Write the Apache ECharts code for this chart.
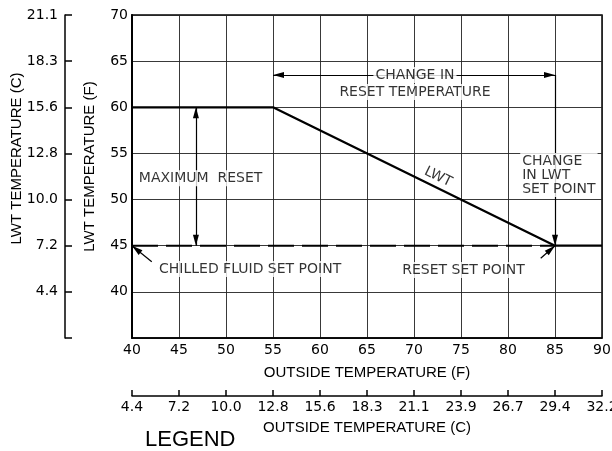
<!DOCTYPE html>
<html><head><meta charset="utf-8">
<script src="https://cdn.jsdelivr.net/npm/echarts@6/dist/echarts.min.js"></script>
<style>html,body{margin:0;padding:0;background:#fff}#c{width:612px;height:451px}</style>
</head><body><div id="c"></div>
<script>
// ---- data ----
const lwtOutsideF = [40, 55, 85, 90];
const lwtTempF = [60, 60, 45, 45];
const setPointOutsideF = [40, 85];
const setPointTempF = [45, 45];
const cTickLabelsY = ['', '4.4', '7.2', '10.0', '12.8', '15.6', '18.3', '21.1'];   // for 35..70 F
const cTickLabelsX = ['4.4', '7.2', '10.0', '12.8', '15.6', '18.3', '21.1', '23.9', '26.7', '29.4', '32.2']; // for 40..90 F

const INK = '#000';
const TICK_FONT = 'DejaVu Sans';
const TITLE_FONT = 'Liberation Sans';

const chart = echarts.init(document.getElementById('c'), null, {renderer: 'canvas'});

function arrow(from, to, both) {
  const head = {symbol: 'triangle', symbolSize: [6, 11], symbolOffset: [0, '50%']};
  return [Object.assign({coord: from}, both ? head : {symbol: 'none'}),
          Object.assign({coord: to}, head)];
}

const option = {
  animation: false,
  backgroundColor: '#fff',
  grid: {left: 132, right: 10, top: 15, bottom: 113, outerBoundsMode: 'none', containLabel: false,
         show: true, borderColor: INK, borderWidth: 1.5, backgroundColor: 'transparent'},
  xAxis: [
    {
      type: 'value', min: 40, max: 90, interval: 5, position: 'bottom',
      axisLine: {show: true, lineStyle: {color: INK, width: 1.5}},
      axisTick: {show: false},
      splitLine: {show: true, lineStyle: {color: '#222', width: 0.9}},
      axisLabel: {color: INK, fontFamily: TICK_FONT, fontSize: 14, margin: 5},
      name: 'OUTSIDE TEMPERATURE (F)', nameLocation: 'middle', nameGap: 27, nameMoveOverlap: false,
      nameTextStyle: {color: INK, fontFamily: TITLE_FONT, fontSize: 15}
    },
    {
      type: 'value', min: 40, max: 90, interval: 5, position: 'bottom', offset: 58,
      axisLine: {show: true, lineStyle: {color: INK, width: 1.5}},
      axisTick: {show: true, inside: true, length: 6, lineStyle: {color: INK, width: 1.5}},
      splitLine: {show: false},
      axisLabel: {color: INK, fontFamily: TICK_FONT, fontSize: 14, margin: 4,
        formatter: v => cTickLabelsX[Math.round((v - 40) / 5)]},
      name: 'OUTSIDE TEMPERATURE (C)', nameLocation: 'middle', nameGap: 24, nameMoveOverlap: false,
      nameTextStyle: {color: INK, fontFamily: TITLE_FONT, fontSize: 15}
    }
  ],
  yAxis: [
    {
      type: 'value', min: 35, max: 70, interval: 5, position: 'left',
      axisLine: {show: true, lineStyle: {color: INK, width: 2}},
      axisTick: {show: false},
      splitLine: {show: true, lineStyle: {color: '#222', width: 0.9}},
      axisLabel: {color: INK, fontFamily: TICK_FONT, fontSize: 14, margin: 4,
        formatter: v => v === 35 ? '' : String(v)},
      name: 'LWT TEMPERATURE (F)', nameLocation: 'middle', nameRotate: 90, nameGap: 35, nameMoveOverlap: false,
      nameTextStyle: {color: INK, fontFamily: TITLE_FONT, fontSize: 15, padding: [0, 0, 0, 20]}
    },
    {
      type: 'value', min: 35, max: 70, interval: 5, position: 'left', offset: 67,
      axisLine: {show: true, lineStyle: {color: INK, width: 1.5}},
      axisTick: {show: true, inside: true, length: 7, lineStyle: {color: INK, width: 1.5}},
      splitLine: {show: false},
      axisLabel: {color: INK, fontFamily: TICK_FONT, fontSize: 14, margin: 7,
        formatter: v => cTickLabelsY[Math.round((v - 35) / 5)]},
      name: 'LWT TEMPERATURE (C)', nameLocation: 'middle', nameRotate: 90, nameGap: 41, nameMoveOverlap: false,
      nameTextStyle: {color: INK, fontFamily: TITLE_FONT, fontSize: 15, padding: [0, 0, 0, 36]}
    }
  ],
  series: [
    {
      name: 'LWT', type: 'line', xAxisIndex: 0, yAxisIndex: 0, z: 3,
      data: lwtOutsideF.map((x, i) => [x, lwtTempF[i]]),
      showSymbol: false, symbol: 'none',
      lineStyle: {color: INK, width: 2.3}
    },
    {
      name: 'Chilled fluid set point', type: 'line', xAxisIndex: 0, yAxisIndex: 0, z: 3,
      data: setPointOutsideF.map((x, i) => [x, setPointTempF[i]]),
      showSymbol: false, symbol: 'none',
      lineStyle: {color: INK, width: 2, type: [26, 8]},
      markLine: {
        silent: true, animation: false, symbol: 'none',
        lineStyle: {color: INK, width: 1.2, type: 'solid'},
        label: {show: false},
        emphasis: {disabled: true},
        data: [
          arrow([55, 63.5], [85, 63.5], true),
          arrow([46.8, 60], [46.8, 45], true),
          arrow([85, 63.5], [85, 45], false),
          arrow([42.1, 43.27], [40, 45], false),
          arrow([83.48, 43.64], [85, 45], false)
        ]
      }
    },
    {
      name: 'notes', type: 'scatter', xAxisIndex: 0, yAxisIndex: 0, z: 6,
      symbolSize: 1, itemStyle: {color: 'rgba(0,0,0,0)'}, silent: true,
      label: {show: true, position: 'inside', formatter: '{b}', color: INK,
        fontFamily: TICK_FONT, fontSize: 14, backgroundColor: '#fff', padding: [1, 2]},
      data: [
        {name: 'CHANGE IN', value: [70.1, 63.5]},
        {name: 'RESET TEMPERATURE', value: [70.1, 61.65]},
        {name: 'MAXIMUM  RESET', value: [47.3, 52.3]},
        {name: 'CHANGE\nIN LWT\nSET POINT', value: [81.3, 52.65], label: {align: 'left', lineHeight: 14}},
        {name: 'LWT', value: [72.55, 52.45], label: {rotate: -26, backgroundColor: 'transparent'}},
        {name: 'CHILLED FLUID SET POINT', value: [42.66, 42.48], label: {align: 'left'}},
        {name: 'RESET SET POINT', value: [75.27, 42.37]}
      ]
    }
  ],
  graphic: [
    {type: 'text', left: 145, top: 429, silent: true,
     style: {text: 'LEGEND', fill: INK, font: '22px "Liberation Sans"'}}
  ]
};
chart.setOption(option);
</script>
</body></html>
